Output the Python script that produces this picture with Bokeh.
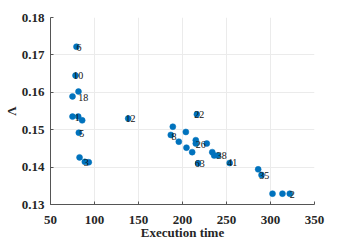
from bokeh.plotting import figure
from bokeh.models import ColumnDataSource, FixedTicker, NumeralTickFormatter, Range1d
from bokeh.core.properties import value
from bokeh.embed import file_html
from bokeh.resources import INLINE

# Data points (execution time, Lambda)
exec_time = [79.5, 78.4, 81.8, 75.0, 75.0, 81.5, 86.0, 82.2, 83.0, 89.0, 93.5,
             138.3, 216.3, 189.0, 186.7, 203.8, 195.8, 215.1, 215.1, 227.6,
             204.5, 211.0, 233.8, 236.0, 240.0, 217.8, 253.6, 286.0, 289.8,
             302.3, 313.6, 321.9]
lam = [0.1722, 0.1645, 0.1602, 0.1589, 0.1535, 0.1535, 0.1525, 0.1492, 0.1426,
       0.1414, 0.1413, 0.1530, 0.1541, 0.1508, 0.1486, 0.1494, 0.1468, 0.1472,
       0.1463, 0.1463, 0.1452, 0.1440, 0.1440, 0.1431, 0.1431, 0.1410, 0.1411,
       0.1394, 0.1379, 0.1329, 0.1329, 0.1329]

# Point labels
label_text = ["6", "10", "18", "1", "5", "3", "12", "22", "8", "26", "38", "63",
              "41", "35", "2"]
label_x = [79.5, 75.8, 81.5, 77.6, 82.6, 87.8, 135.2, 213.3, 187.5, 215.1,
           239.0, 214.0, 250.8, 287.2, 322.0]
label_y = [0.1719, 0.1645, 0.1586, 0.1532, 0.1489, 0.1411, 0.1530, 0.1541,
           0.1483, 0.1460, 0.1432, 0.1409, 0.1411, 0.1378, 0.1327]

x_ticks = [50, 100, 150, 200, 250, 300, 350]
y_ticks = [0.13, 0.14, 0.15, 0.16, 0.17, 0.18]

FONT = "Liberation Serif"

p = figure(frame_width=264, frame_height=187, output_backend="svg",
           toolbar_location=None,
           x_range=Range1d(50, 350), y_range=Range1d(0.13, 0.18),
           min_border_left=43, min_border_right=18, min_border_top=17,
           min_border_bottom=30)
p.outline_line_color = None
p.background_fill_color = "white"

p.scatter(exec_time, lam, size=6, fill_color="#0072BD", line_color="#0072BD",
          line_width=0.5)

src = ColumnDataSource(dict(x=label_x, y=label_y, t=label_text))
p.text("x", "y", text="t", source=src, text_font=value(FONT),
       text_font_size="10px", text_color="#111111", text_align="left",
       text_baseline="middle")

p.xaxis.ticker = FixedTicker(ticks=x_ticks)
p.yaxis.ticker = FixedTicker(ticks=y_ticks)
p.yaxis.formatter = NumeralTickFormatter(format="0.00")

for ax in (p.xaxis[0], p.yaxis[0]):
    ax.axis_line_color = "#555555"
    ax.major_tick_line_color = "#555555"
    ax.major_tick_in = 3
    ax.major_tick_out = 0
    ax.minor_tick_line_color = None
    ax.major_label_text_font = FONT
    ax.major_label_text_font_style = "bold"
    ax.major_label_text_font_size = "13px"
    ax.major_label_text_color = "#262626"
    ax.axis_label_text_font = FONT
    ax.axis_label_text_font_style = "bold"
    ax.axis_label_text_font_size = "13px"
    ax.axis_label_text_color = "#262626"

p.xaxis.axis_label = "Execution time"
p.yaxis.axis_label = "Λ"
p.xaxis.major_label_standoff = 11
p.yaxis.major_label_standoff = 6
p.xaxis.axis_label_standoff = -2
p.yaxis.axis_label_standoff = 0

p.xgrid.grid_line_color = "#ebebeb"
p.ygrid.grid_line_color = "#ebebeb"

open("out.html", "w").write(file_html(p, INLINE))
